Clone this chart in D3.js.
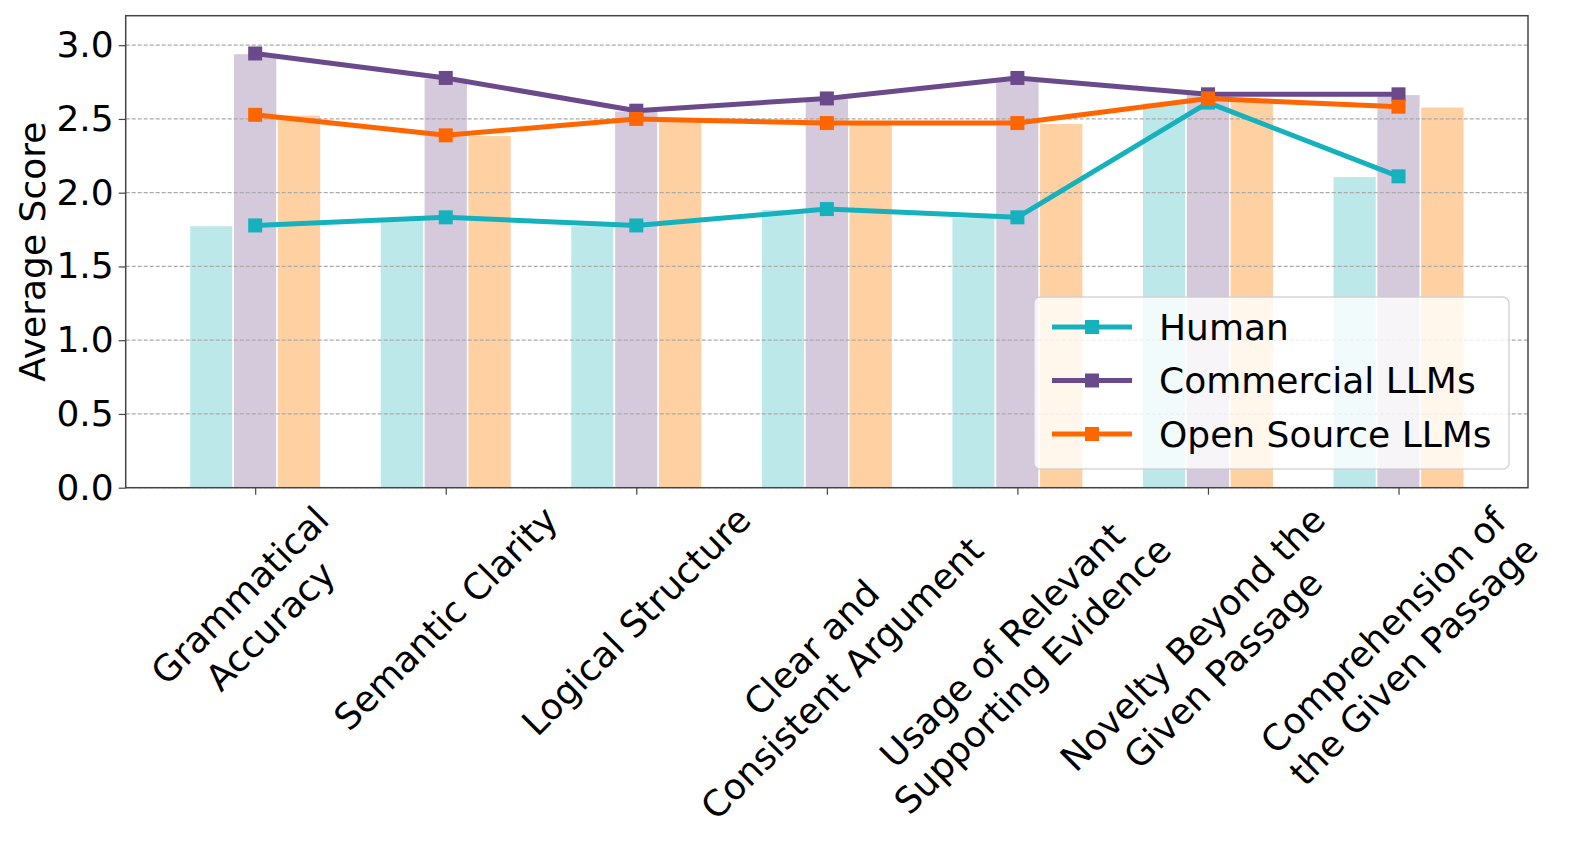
<!DOCTYPE html>
<html>
<head>
<meta charset="utf-8">
<script src="https://cdn.jsdelivr.net/npm/d3@7"></script>
<style>
  body { margin: 0; background: #fff; }
  text { font-family: "DejaVu Sans", sans-serif; fill: #000; }
</style>
</head>
<body>
<svg id="chart" width="1578" height="842"></svg>
<script>
// chart data
var categories = [
  "Grammatical\nAccuracy",
  "Semantic Clarity",
  "Logical Structure",
  "Clear and\nConsistent Argument",
  "Usage of Relevant\nSupporting Evidence",
  "Novelty Beyond the\nGiven Passage",
  "Comprehension of\nthe Given Passage"
];
var seriesNames = ["Human", "Commercial LLMs", "Open Source LLMs"];
var humanScores = [1.778, 1.833, 1.778, 1.889, 1.833, 2.611, 2.111];
var commercialScores = [2.944, 2.778, 2.556, 2.639, 2.778, 2.667, 2.667];
var openSourceScores = [2.528, 2.389, 2.500, 2.472, 2.472, 2.639, 2.583];
var yTicks = [0, 0.5, 1.0, 1.5, 2.0, 2.5, 3.0];

var lineColors = ["#15b2bd", "#6b4a8b", "#ff6600"];
var barColors = ["#bde8ea", "#d5cadb", "#fed0a2"];

var allSeries = [humanScores, commercialScores, openSourceScores];

var margin = { left: 125.7, right: 1528, top: 15.7, bottom: 487.7 };
var barW = 0.23;
var xPad = 1.5 * barW + 0.05 * (categories.length - 1 + 3 * barW);

var svg = d3.select("#chart");

var x = d3.scaleLinear()
  .domain([-xPad, categories.length - 1 + xPad])
  .range([margin.left, margin.right]);

var y = d3.scaleLinear()
  .domain([0, 3.2])
  .range([margin.bottom, margin.top]);

// bars
var barGroup = svg.append("g");
allSeries.forEach(function(vals, s) {
  barGroup.selectAll(".bar" + s)
    .data(vals)
    .enter()
    .append("rect")
    .attr("x", (d, i) => x(i + (s - 1) * barW - barW / 2))
    .attr("width", x(barW) - x(0))
    .attr("y", d => y(d))
    .attr("height", d => y(0) - y(d))
    .attr("fill", barColors[s])
    .attr("stroke", "#fff")
    .attr("stroke-width", 1.5);
});

// grid on top of bars
svg.append("g")
  .selectAll("line")
  .data(yTicks)
  .enter()
  .append("line")
  .attr("x1", margin.left)
  .attr("x2", margin.right)
  .attr("y1", d => y(d))
  .attr("y2", d => y(d))
  .attr("stroke", "#aaa")
  .attr("stroke-width", 1.2)
  .attr("stroke-dasharray", "4,2");

// lines with square markers
var line = d3.line()
  .x((d, i) => x(i))
  .y(d => y(d));

allSeries.forEach(function(vals, s) {
  svg.append("path")
    .datum(vals)
    .attr("d", line)
    .attr("fill", "none")
    .attr("stroke", lineColors[s])
    .attr("stroke-width", 5)
    .attr("stroke-linejoin", "round");
  svg.append("g")
    .selectAll("rect")
    .data(vals)
    .enter()
    .append("rect")
    .attr("x", (d, i) => x(i) - 7)
    .attr("y", d => y(d) - 7)
    .attr("width", 14)
    .attr("height", 14)
    .attr("fill", lineColors[s]);
});

// frame
svg.append("rect")
  .attr("x", margin.left)
  .attr("y", margin.top)
  .attr("width", margin.right - margin.left)
  .attr("height", margin.bottom - margin.top)
  .attr("fill", "none")
  .attr("stroke", "#444")
  .attr("stroke-width", 1.5);

// axes
var leftAxis = d3.axisLeft(y)
  .tickValues(yTicks)
  .tickFormat(d3.format(".1f"))
  .tickSize(7)
  .tickPadding(5);

var yAxis = svg.append("g")
  .attr("transform", `translate(${margin.left},0)`)
  .call(leftAxis);
yAxis.select(".domain").remove();
yAxis.selectAll("line").attr("stroke", "#444").attr("stroke-width", 1.2);
yAxis.selectAll("text")
  .style("font-size", "36px")
  .attr("font-family", "DejaVu Sans");

var bottomAxis = d3.axisBottom(x)
  .tickValues(d3.range(categories.length))
  .tickFormat("")
  .tickSize(7);

var xAxis = svg.append("g")
  .attr("transform", `translate(0,${margin.bottom})`)
  .call(bottomAxis);
xAxis.select(".domain").remove();
xAxis.selectAll("line").attr("stroke", "#444").attr("stroke-width", 1.2);

// rotated category labels, bbox centred under tick
categories.forEach(function(cat, i) {
  var outer = svg.append("g");
  var inner = outer.append("g").attr("transform", "rotate(-45)");
  var t = inner.append("text")
    .attr("text-anchor", "middle")
    .style("font-size", "36px");
  var lines = cat.split("\n");
  lines.forEach(function(l, k) {
    t.append("tspan")
      .attr("x", 0)
      .attr("dy", k === 0 ? 0 : 43)
      .text(l);
  });
  var bb = outer.node().getBoundingClientRect();
  var cx = bb.left + bb.width / 2;
  outer.attr("transform", `translate(${x(i) - cx},${margin.bottom + 11 - bb.top})`);
});

// y label
svg.append("text")
  .attr("transform", `translate(45,${(margin.top + margin.bottom) / 2}) rotate(-90)`)
  .attr("text-anchor", "middle")
  .style("font-size", "36px")
  .text("Average Score");

// legend
var legend = svg.append("g");
legend.append("rect")
  .attr("x", 1034)
  .attr("y", 297)
  .attr("width", 475)
  .attr("height", 172)
  .attr("rx", 6)
  .attr("fill", "#fff")
  .attr("fill-opacity", 0.8)
  .attr("stroke", "#ccc")
  .attr("stroke-opacity", 0.8)
  .attr("stroke-width", 1.5);

seriesNames.forEach(function(name, s) {
  var ly = 327 + s * 53.5;
  legend.append("line")
    .attr("x1", 1052)
    .attr("x2", 1132)
    .attr("y1", ly)
    .attr("y2", ly)
    .attr("stroke", lineColors[s])
    .attr("stroke-width", 5);
  legend.append("rect")
    .attr("x", 1092 - 7)
    .attr("y", ly - 7)
    .attr("width", 14)
    .attr("height", 14)
    .attr("fill", lineColors[s]);
  legend.append("text")
    .attr("x", 1159)
    .attr("y", ly)
    .attr("dy", "0.36em")
    .style("font-size", "36px")
    .text(name);
});
</script>
</body>
</html>
